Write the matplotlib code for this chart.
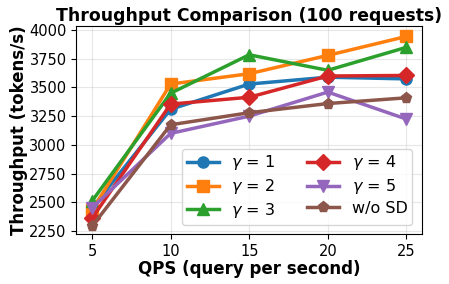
import matplotlib
matplotlib.use("Agg")
import matplotlib.pyplot as plt

qps = [5, 10, 15, 20, 25]
labels = [r"$\gamma$ = 1", r"$\gamma$ = 2", r"$\gamma$ = 3", r"$\gamma$ = 4", r"$\gamma$ = 5", "w/o SD"]
gamma1 = [2450, 3310, 3530, 3590, 3575]
gamma2 = [2430, 3530, 3620, 3780, 3945]
gamma3 = [2510, 3450, 3785, 3650, 3850]
gamma4 = [2360, 3355, 3415, 3600, 3605]
gamma5 = [2450, 3100, 3250, 3460, 3225]
no_sd = [2290, 3175, 3280, 3360, 3410]
series = [gamma1, gamma2, gamma3, gamma4, gamma5, no_sd]
markers = ["o", "s", "^", "D", "v", "p"]
colors = ["#1f77b4", "#ff7f0e", "#2ca02c", "#d62728", "#9467bd", "#8c564b"]

fig, ax = plt.subplots(figsize=(4.49, 2.84), dpi=100)
for vals, lab, m, c in zip(series, labels, markers, colors):
    ax.plot(qps, vals, marker=m, color=c, label=lab, linewidth=2.5, markersize=8)

ax.set_xticks(qps)
ax.set_yticks([2250, 2500, 2750, 3000, 3250, 3500, 3750, 4000])
ax.set_ylim(2220, 4040)
ax.tick_params(labelsize=10.5)
ax.grid(True, alpha=0.3)
ax.set_title("Throughput Comparison (100 requests)", fontsize=12.4, fontweight="bold", pad=3)
ax.set_xlabel("QPS (query per second)", fontsize=12, fontweight="bold", labelpad=1)
ax.set_ylabel("Throughput (tokens/s)", fontsize=12, fontweight="bold", labelpad=1)
ax.legend(ncol=2, loc="lower right", fontsize=11.5, handlelength=2, labelspacing=0.3,
          columnspacing=2.0, borderaxespad=0.6, borderpad=0.3)

fig.subplots_adjust(left=0.17, right=0.94, top=0.91, bottom=0.175)
plt.savefig("out.png")
